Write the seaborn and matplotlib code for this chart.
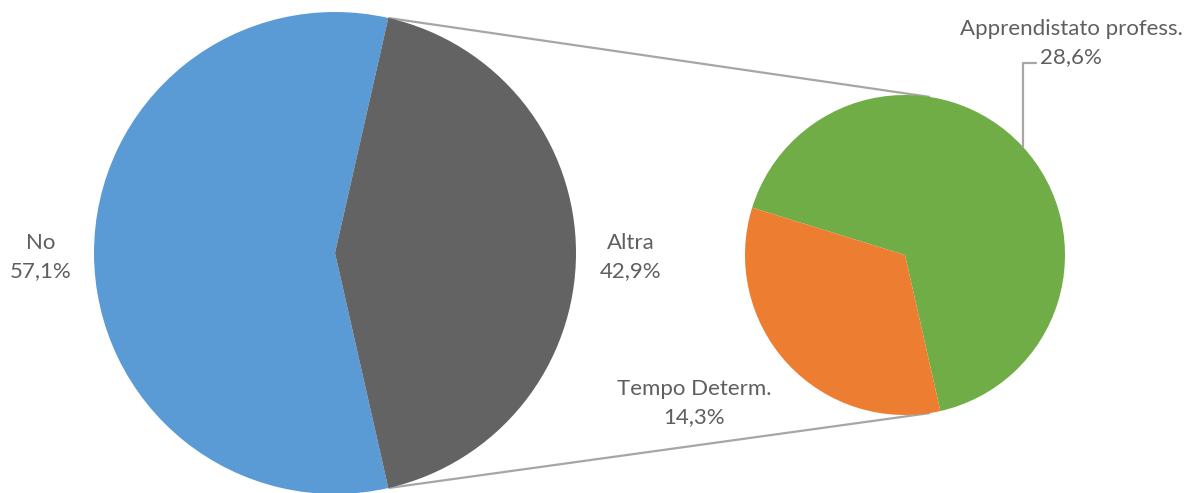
"""Pie-of-pie: main split No / Altra, with Altra broken out by contract type."""

import matplotlib

matplotlib.use("Agg")
import matplotlib.pyplot as plt
import numpy as np
import seaborn as sns

# data
main_labels = ["No", "Altra"]
main_values = [57.1, 42.9]
sub_labels = ["Apprendistato profess.", "Tempo Determ."]
sub_values = [28.6, 14.3]

main_colors = ["#5b9bd5", "#636363"]
sub_colors = ["#70ad47", "#ed7d31"]
TEXT = "#5f5f5f"
LINE = "#a6a6a6"

W, H = 1199, 493
sns.set_theme(style="white")
plt.rcParams["font.family"] = ["Lato", "DejaVu Sans"]

fig = plt.figure(figsize=(W / 100, H / 100), dpi=100)
ax = fig.add_axes([0, 0, 1, 1])


def fmt(v):
    return f"{v:.1f}%".replace(".", ",")


# main pie, "Altra" wedge centred on the right
c_main, r_main = (335, H - 253), 241
start_main = 3.6 * main_values[1] / 2
ax.pie(main_values, colors=main_colors, startangle=start_main,
       center=c_main, radius=r_main, counterclock=True,
       wedgeprops=dict(linewidth=0))

# secondary pie
c_sub, r_sub = (905, H - 255), 160
ax.pie(sub_values, colors=sub_colors, startangle=-start_main,
       center=c_sub, radius=r_sub, wedgeprops=dict(linewidth=0))

# connector lines
for sgn in (1, -1):
    a0 = np.deg2rad(sgn * start_main)
    a1 = np.deg2rad(sgn * 81)
    p0 = (c_main[0] + r_main * np.cos(a0), c_main[1] + r_main * np.sin(a0))
    p1 = (c_sub[0] + r_sub * np.cos(a1), c_sub[1] + r_sub * np.sin(a1))
    ax.plot([p0[0], p1[0]], [p0[1], p1[1]], color=LINE, lw=1.6,
            solid_capstyle="butt", zorder=0)

# labels
fs = 16
ls = 1.5
ax.text(41, H - 257, f"{main_labels[0]}\n{fmt(main_values[0])}",
        ha="center", va="center", fontsize=fs, color=TEXT, linespacing=ls)
ax.text(631, H - 257, f"{main_labels[1]}\n{fmt(main_values[1])}",
        ha="center", va="center", fontsize=fs, color=TEXT, linespacing=ls)
ax.text(1071, H - 43, f"{sub_labels[0]}\n{fmt(sub_values[0])}",
        ha="center", va="center", fontsize=fs, color=TEXT, linespacing=ls)
ax.text(694, H - 403, f"{sub_labels[1]}\n{fmt(sub_values[1])}",
        ha="center", va="center", fontsize=fs, color=TEXT, linespacing=ls)

# leader line for the green label
lx = 1023
ly = c_sub[1] + np.sqrt(r_sub ** 2 - (lx - c_sub[0]) ** 2)
ax.plot([lx, lx, 1036], [ly, H - 63, H - 63], color=LINE, lw=1.6)

ax.set_xlim(0, W)
ax.set_ylim(0, H)
ax.set_aspect("equal")
ax.axis("off")
fig.savefig("out.png", dpi=100)
